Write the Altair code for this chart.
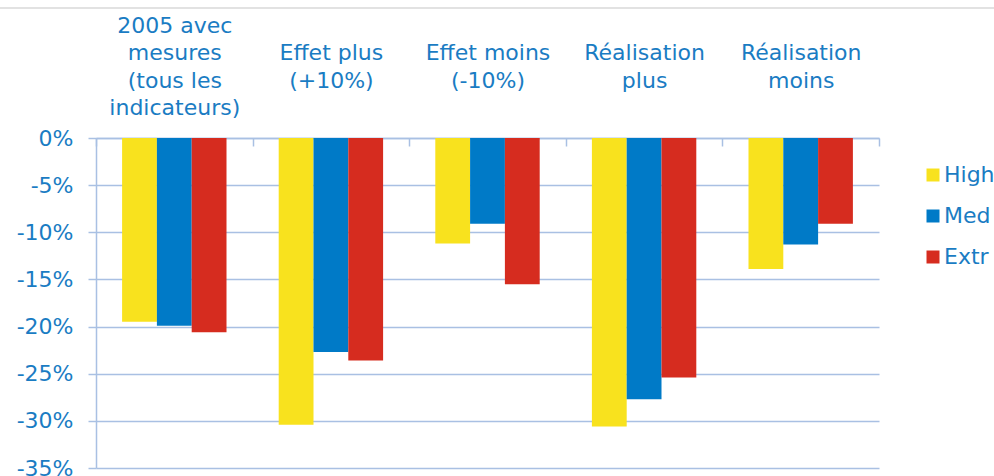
import altair as alt
import pandas as pd

# Scenario labels ("|" marks a line break; leading breaks keep every label bottom-aligned)
scenarios = [
    "2005 avec|mesures|(tous les|indicateurs)",
    "||Effet plus|(+10%)",
    "||Effet moins|(-10%)",
    "||Réalisation|plus",
    "||Réalisation|moins",
]
series = ["High", "Med", "Extr"]

# Change per scenario for each series (fraction)
high = [-0.195, -0.304, -0.112, -0.306, -0.139]
med = [-0.199, -0.227, -0.091, -0.277, -0.113]
extr = [-0.206, -0.236, -0.155, -0.254, -0.091]

y_ticks = [0, -0.05, -0.10, -0.15, -0.20, -0.25, -0.30, -0.35]

rows = []
for name, values in zip(series, [high, med, extr]):
    for scen, v in zip(scenarios, values):
        rows.append({"scenario": scen, "series": name, "value": v})
df = pd.DataFrame(rows)

BLUE_TEXT = "#1A7CC3"
LINE = "#A9C0E3"
FONT = "DejaVu Sans"
W, H = 783, 330

bars = alt.Chart(df).mark_bar().encode(
    x=alt.X(
        "scenario:N",
        sort=scenarios,
        # categories fill their cells; the gap between groups comes from the offset scale
        scale=alt.Scale(paddingInner=0, paddingOuter=0),
        axis=alt.Axis(
            orient="bottom",
            offset=-H,
            title=None,
            labelAngle=0,
            labelExpr="split(datum.label, '|')",
            labelFont=FONT,
            labelFontSize=22,
            labelColor=BLUE_TEXT,
            labelLineHeight=27.6,
            labelBaseline="alphabetic",
            labelPadding=-114,
            labelLimit=300,
            tickBand="extent",
            tickSize=8,
            tickColor=LINE,
            tickWidth=1.5,
            domainColor=LINE,
            domainWidth=1.5,
            grid=False,
        ),
    ),
    xOffset=alt.XOffset(
        "series:N", sort=series, scale=alt.Scale(paddingInner=0, paddingOuter=0.75)
    ),
    y=alt.Y(
        "value:Q",
        scale=alt.Scale(domain=[-0.35, 0], nice=False),
        axis=alt.Axis(
            title=None,
            values=y_ticks,
            labelExpr="(datum.value < 0 ? '-' : '') + format(abs(datum.value), '.0%')",
            labelFont=FONT,
            labelFontSize=22,
            labelColor=BLUE_TEXT,
            labelPadding=15,
            tickSize=8,
            tickColor=LINE,
            tickWidth=1.5,
            domainColor=LINE,
            domainWidth=1.5,
            gridColor=LINE,
            gridWidth=1.5,
        ),
    ),
    color=alt.Color(
        "series:N",
        sort=series,
        scale=alt.Scale(domain=series, range=["#F8E21E", "#007AC7", "#D62C1F"]),
        legend=alt.Legend(
            title=None,
            orient="none",
            legendX=826,
            legendY=26,
            symbolType="square",
            symbolSize=169,
            symbolStrokeWidth=0,
            labelFont=FONT,
            labelFontSize=22,
            labelColor=BLUE_TEXT,
            labelOffset=0,
            rowPadding=19,
        ),
    ),
)

# Light frame line across the top of the chart area
frame = alt.Chart(pd.DataFrame({"k": [0]})).mark_rule(color="#D9D9D9", strokeWidth=1.5).encode(
    x=alt.value(-96), x2=alt.value(898), y=alt.value(-130)
)

chart = (
    alt.layer(frame, bars)
    .properties(
        width=W,
        height=H,
        background="white",
        autosize=alt.AutoSizeParams(type="none"),
        padding={"left": 96, "top": 138, "right": 115, "bottom": 8},
    )
    .configure_view(strokeWidth=0)
)

chart.save("out.html", embed_options={"renderer": "svg", "actions": False})
